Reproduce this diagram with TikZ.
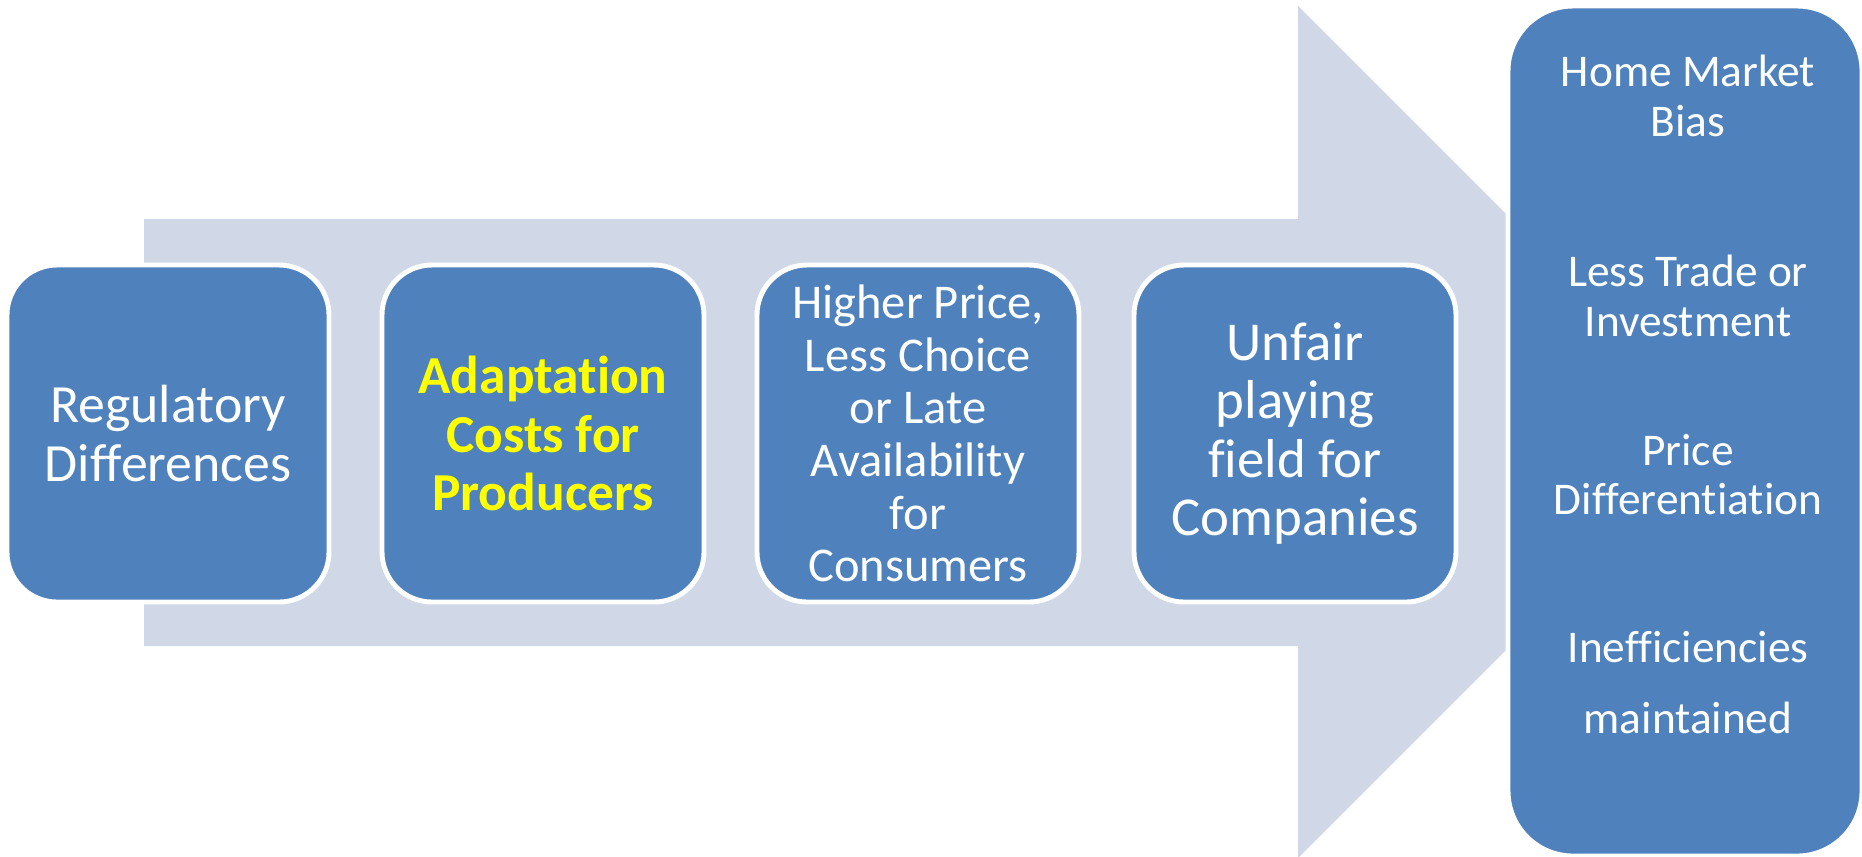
\documentclass[tikz,border=0pt]{standalone}
\usepackage{fontspec}
\setmainfont{Carlito}[Ligatures=NoCommon]
\definecolor{boxblue}{HTML}{4F81BD}
\definecolor{arrowgrey}{HTML}{D0D8E8}
\definecolor{hiyellow}{HTML}{FFFF00}

\begin{document}
\begin{tikzpicture}[y=-1cm,
  stage/.style={rounded corners=0.5cm,fill=boxblue,draw=white,line width=1.4pt,
    minimum width=3.22cm,minimum height=3.37cm,text=white,align=center,
    font=\fontsize{15.3}{16.6}\selectfont},
  result/.style={text=white,align=center,font=\fontsize{12.9}{14.2}\selectfont}]
\useasboundingbox (0,0) rectangle (18.62,8.56);
% big background arrow
\fill [arrowgrey] (1.44,2.19) -- (12.98,2.19) -- (12.98,0.06) -- (17.24,4.32)
  -- (12.98,8.58) -- (12.98,6.46) -- (1.44,6.46) -- cycle;
% the four stages
\node [stage] (reg) at (1.68,4.335) {Regulatory\\Differences};
\node [stage,text=hiyellow,font=\fontsize{15.2}{16.6}\selectfont\bfseries] (adapt) at (5.43,4.335) {Adaptation\\Costs for\\Producers};
\node [stage,font=\fontsize{13.8}{15}\selectfont] (cons) at (9.18,4.335) {Higher Price,\\Less Choice\\or Late\\Availability\\for\\Consumers};
\node [stage,font=\fontsize{15.6}{16.6}\selectfont] (comp) at (12.95,4.335) {Unfair\\playing\\field for\\Companies};
% outcome column
\node [rounded corners=0.65cm,fill=boxblue,draw=white,line width=1.4pt,
  minimum width=3.54cm,minimum height=8.5cm] (out) at (16.85,4.31) {};
\node [result] (bias) at (16.88,0.955) {Home Market\\Bias};
\node [result] (trade) at (16.88,2.96) {Less Trade or\\Investment};
\node [result] (price) at (16.88,4.745) {Price\\Differentiation};
\node [result] (ineff) at (16.88,6.825) {Inefficiencies\\[6pt]maintained};
\end{tikzpicture}
\end{document}
